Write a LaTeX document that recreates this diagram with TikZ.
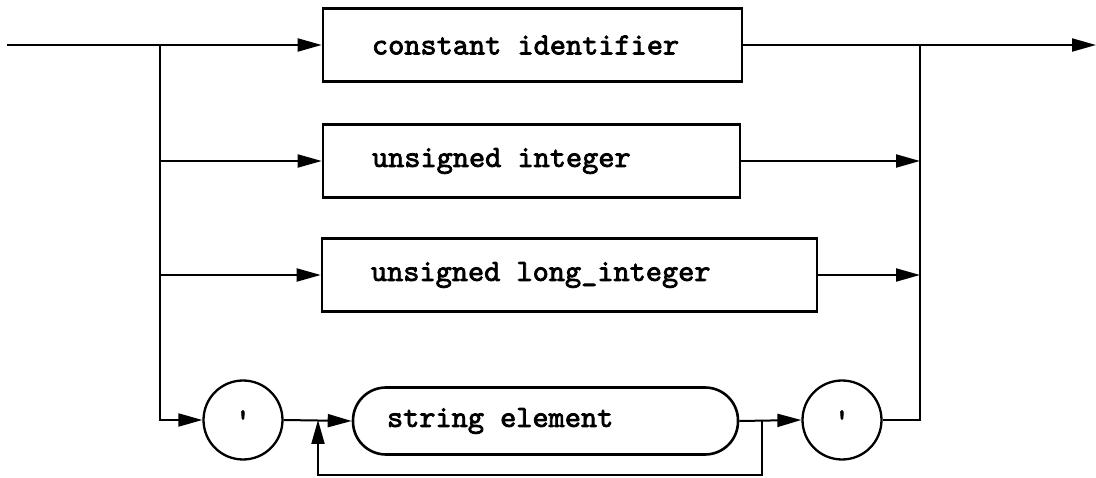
\documentclass[tikz,border=0pt]{standalone}
\usepackage{fontspec}
\newfontfamily\diagfont{lmmono10-regular.otf}[AutoFakeBold=2.5]
\protected\def\dlblfont{\diagfont\bfseries\fontsize{30.8}{34}\selectfont}
\usetikzlibrary{arrows.meta}

\begin{document}
\begin{tikzpicture}[x=1pt, y=-1pt,
  lbl/.style={font=\dlblfont, execute at begin node={\spaceskip=0.525em\relax}},
  flow/.style={line width=2pt, -{Triangle[length=24pt,width=13pt]}},
  wire/.style={line width=2pt},
  ntbox/.style={lbl, draw, line width=2.6pt, rectangle, inner xsep=49pt, align=left,
    minimum height=73pt},
  strbox/.style={lbl, draw, line width=2.6pt, rectangle, rounded corners=33pt, inner xsep=34pt,
    align=left, minimum height=67pt},
  quote/.style={lbl, draw, line width=2.3pt, circle, minimum size=79pt, inner sep=0pt},
]
\useasboundingbox (0,0) rectangle (1096,478);

% alternatives
\node[ntbox, text width=321pt] (b1) at (532.5,45)  {constant identifier};
\node[ntbox, text width=319pt] (b2) at (531.5,161) {unsigned integer};
\node[ntbox, text width=397pt] (b3) at (569.5,275) {unsigned long\_integer};

% quoted string branch
\node[quote] (c1) at (243,420) {\char"27};
\node[strbox, text width=317pt] (se) at (545.5,421) {string element};
\node[quote] (c2) at (842,420) {\char"27};

% junction points
\coordinate (in)  at (7,45);
\coordinate (out) at (1096,45);
\coordinate (sL)  at (160,45);
\coordinate (sR)  at (920,45);
\coordinate (lp)  at (762,420);
\coordinate (lb)  at (762,475);
\coordinate (lq)  at (318,420);

% entry and exit
\draw[flow] (in) -- (b1.west);
\draw[flow] (b1.east) -- (out);

% fan out on the left
\draw[flow] (sL) |- (c1.west);
\draw[flow] (sL |- b2.west) -- (b2.west);
\draw[flow] (sL |- b3.west) -- (b3.west);

% merge on the right
\draw[wire] (c2.east) -| (sR);
\draw[flow] (b2.east) -- (sR |- b2.east);
\draw[flow] (b3.east) -- (sR |- b3.east);

% string body and repeat loop
\draw[flow] (c1.east) -- (se.west);
\draw[flow] (se.east) -- (c2.west);
\draw[flow] (lp) -- (lb) -| (lq);
\end{tikzpicture}
\end{document}
